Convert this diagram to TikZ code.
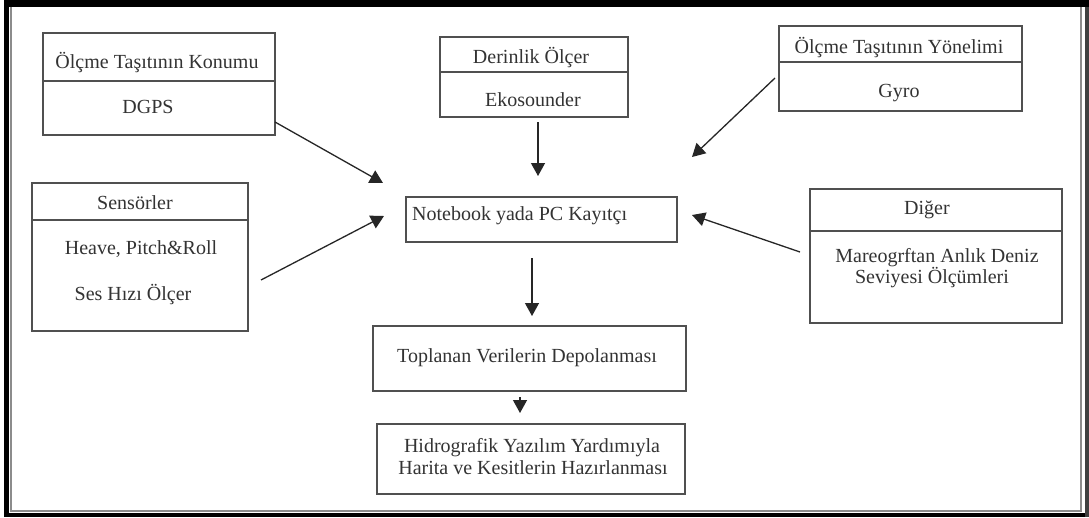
\documentclass[tikz,border=0pt]{standalone}
\usepackage{fontspec}
\setmainfont{Liberation Serif}
\usetikzlibrary{arrows.meta}
\definecolor{txt}{HTML}{333333}
\definecolor{edge}{HTML}{505050}
\begin{document}
\begin{tikzpicture}[x=1pt,y=-1pt,
  box/.style={draw=edge,line width=1.1pt,minimum width=#1,inner sep=0pt},
  vbox/.style={minimum height=#1},
  lbl/.style={text=txt,font=\fontsize{20}{24}\selectfont,anchor=base,inner sep=0pt},
  conn/.style={draw=black!85,line width=1.3pt,-{Triangle[length=13pt,width=14pt]}}]
\useasboundingbox (0,0) rectangle (1089,517);
% outer frame
\fill[black] (4,0) rectangle (1089,517);
\fill[black!75] (1085,7) rectangle (1089,517);
\fill[white] (9,7) rectangle (1085,513);
\draw[black!45,line width=1.2pt] (11,7) -- (11,511) -- (1081,511) -- (1081,7);
% boxes
\node[box=232pt,vbox=102pt] (b1) at (159,84) {};
\node[box=188pt,vbox=80pt] (b2) at (534,77) {};
\node[box=243pt,vbox=85pt] (b3) at (900.5,68.5) {};
\node[box=216pt,vbox=148pt] (b4) at (140,257) {};
\node[box=271pt,vbox=45pt] (b5) at (541.5,219.5) {};
\node[box=252pt,vbox=134pt] (b6) at (936,256) {};
\node[box=313pt,vbox=65pt] (b7) at (529.5,358.5) {};
\node[box=308pt,vbox=70pt] (b8) at (531,459) {};
% dividers
\draw[draw=edge,line width=1.1pt] (b1.west |- 0,81) -- (b1.east |- 0,81);
\draw[draw=edge,line width=1.1pt] (b2.west |- 0,72) -- (b2.east |- 0,72);
\draw[draw=edge,line width=1.1pt] (b3.west |- 0,62) -- (b3.east |- 0,62);
\draw[draw=edge,line width=1.1pt] (b4.west |- 0,220) -- (b4.east |- 0,220);
\draw[draw=edge,line width=1.1pt] (b6.west |- 0,231) -- (b6.east |- 0,231);
% texts
\node[lbl] (t1a) at (157,68) {Ölçme Taşıtının Konumu};
\node[lbl] (t1b) at (148,113) {DGPS};
\node[lbl] (t2a) at (531,63) {Derinlik Ölçer};
\node[lbl] (t2b) at (533,106) {Ekosounder};
\node[lbl] (t3a) at (899,53) {Ölçme Taşıtının Yönelimi};
\node[lbl] (t3b) at (899,97) {Gyro};
\node[lbl] (t4a) at (135,209) {Sensörler};
\node[lbl] (t4b) at (141,254) {Heave, Pitch\&Roll};
\node[lbl] (t4c) at (133,300) {Ses Hızı Ölçer};
\node[lbl,anchor=base west] (t5) at (412,220) {Notebook yada PC Kayıtçı};
\node[lbl] (t6a) at (927,214) {Diğer};
\node[lbl] (t6b) at (937,262) {Mareogrftan Anlık Deniz};
\node[lbl] (t6c) at (932,283) {Seviyesi Ölçümleri};
\node[lbl] (t7) at (527,362) {Toplanan Verilerin Depolanması};
\node[lbl] (t8a) at (532,452) {Hidrografik Yazılım Yardımıyla};
\node[lbl] (t8b) at (533,474) {Harita ve Kesitlerin Hazırlanması};
% connector endpoints
\coordinate (s1) at (275,122);
\coordinate (e1) at (383,183);
\coordinate (s2) at (538,122);
\coordinate (e2) at (538,176);
\coordinate (s3) at (775,78);
\coordinate (e3) at (692,157);
\coordinate (s4) at (261,280);
\coordinate (e4) at (384,216);
\coordinate (s6) at (800,252);
\coordinate (e6) at (692,215);
\coordinate (s5) at (532,258);
\coordinate (e5) at (532,316);
\coordinate (s7) at (520,397);
\coordinate (e7) at (520,413);
\draw[conn] (s1) -- (e1);
\draw[conn] (s2) -- (e2);
\draw[conn] (s3) -- (e3);
\draw[conn] (s4) -- (e4);
\draw[conn] (s6) -- (e6);
\draw[conn] (s5) -- (e5);
\draw[conn] (s7) -- (e7);
\end{tikzpicture}
\end{document}
